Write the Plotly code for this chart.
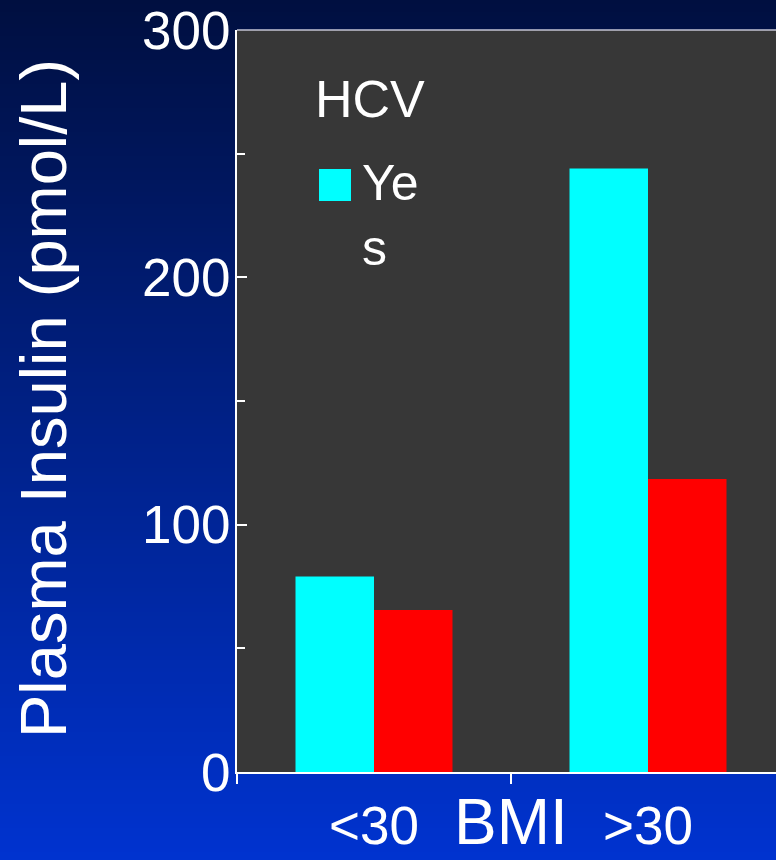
import plotly.graph_objects as go

categories = ["<30", ">30"]
hcv_yes = [79, 244]
hcv_no = [65.5, 118.5]
y_tickvals = [0, 100, 200, 300]
y_ticktext = ["0", "100", "200", "300"]

W, H = 776, 860
ML, MR, MT, MB = 237, 0, 30, 88
PW, PH = W - ML - MR, H - MT - MB

def px2paper_x(px):
    return (px - ML) / PW

def px2paper_y(py):
    return (H - MB - py) / PH

FONT = "Liberation Sans, Arial, sans-serif"

fig = go.Figure()
fig.add_trace(go.Bar(x=categories, y=hcv_yes, name="Yes",
                     marker=dict(color="#00FFFF", line=dict(width=0))))
fig.add_trace(go.Bar(x=categories, y=hcv_no, name="No",
                     marker=dict(color="#FF0000", line=dict(width=0))))

# gradient background built from thin stripes
shapes = []
top = (0, 15, 64)
bot = (0, 51, 208)
step = 4
n = H // step + 1
for i in range(n):
    t = i / (n - 1)
    c = tuple(round(top[k] + (bot[k] - top[k]) * t) for k in range(3))
    y0 = i * step
    y1 = y0 + step + 1
    shapes.append(dict(type="rect", xref="paper", yref="paper",
                       x0=px2paper_x(-5), x1=px2paper_x(W + 5),
                       y0=px2paper_y(y1), y1=px2paper_y(y0),
                       fillcolor="rgb(%d,%d,%d)" % c, line=dict(width=0),
                       layer="below"))
# plot area fill
shapes.append(dict(type="rect", xref="paper", yref="paper",
                   x0=0, x1=1.01, y0=0, y1=1,
                   fillcolor="#373737", line=dict(width=0), layer="below"))
# top border of plot area
shapes.append(dict(type="line", xref="paper", yref="paper",
                   x0=0, x1=1.01, y0=1, y1=1,
                   line=dict(color="#c4c4d4", width=1.5)))
# legend swatch
shapes.append(dict(type="rect", xref="paper", yref="paper",
                   x0=px2paper_x(319), x1=px2paper_x(351),
                   y0=px2paper_y(201), y1=px2paper_y(169),
                   fillcolor="#00FFFF", line=dict(width=0)))

annotations = [
    dict(text="HCV", xref="paper", yref="paper",
         x=px2paper_x(313), y=px2paper_y(99), xanchor="left", yanchor="middle",
         showarrow=False, font=dict(family=FONT, size=52, color="white")),
    dict(text="Ye<br>s", xref="paper", yref="paper",
         x=px2paper_x(360), y=px2paper_y(153), xanchor="left", yanchor="top",
         align="left", showarrow=False,
         font=dict(family=FONT, size=50, color="white")),
    dict(text="BMI", xref="x", yref="paper",
         x=0.5, y=px2paper_y(860), xanchor="center", yanchor="bottom",
         showarrow=False, font=dict(family=FONT, size=64, color="white")),
    dict(text="Plasma Insulin (pmol/L)", xref="paper", yref="paper",
         x=px2paper_x(44), y=px2paper_y(399), xanchor="center", yanchor="middle",
         textangle=-90, showarrow=False,
         font=dict(family=FONT, size=65, color="white")),
]

fig.update_layout(
    width=W, height=H,
    margin=dict(l=ML, r=MR, t=MT, b=MB, pad=0),
    paper_bgcolor="#00208f",
    plot_bgcolor="#373737",
    barmode="group",
    bargap=0.427,
    bargroupgap=0,
    showlegend=False,
    shapes=shapes,
    annotations=annotations,
    font=dict(family=FONT, color="white"),
    xaxis=dict(
        type="category",
        range=[-0.5, -0.5 + PW / 274.0],
        showgrid=False, zeroline=False,
        showline=True, linecolor="white", linewidth=2,
        ticks="outside", tickson="boundaries", ticklen=10, tickcolor="white", tickwidth=1.5,
        tickfont=dict(family=FONT, size=53, color="white"),
        ticklabelstandoff=6,
    ),
    yaxis=dict(
        range=[0, 300],
        tickvals=y_tickvals, ticktext=y_ticktext,
        showgrid=False, zeroline=False,
        showline=True, linecolor="white", linewidth=2,
        ticks="inside", ticklen=10, tickcolor="white", tickwidth=1.5,
        tickfont=dict(family=FONT, size=53, color="white"),
        ticklabelstandoff=-6,
        minor=dict(dtick=50, ticks="inside", ticklen=8, tickcolor="white", tickwidth=1.5,
                   showgrid=False),
    ),
)

fig.write_html("out.html",
               config={"displayModeBar": False},
               post_script="document.body.style.margin='0';document.body.style.padding='0';"
                           "document.body.style.overflow='hidden';")
